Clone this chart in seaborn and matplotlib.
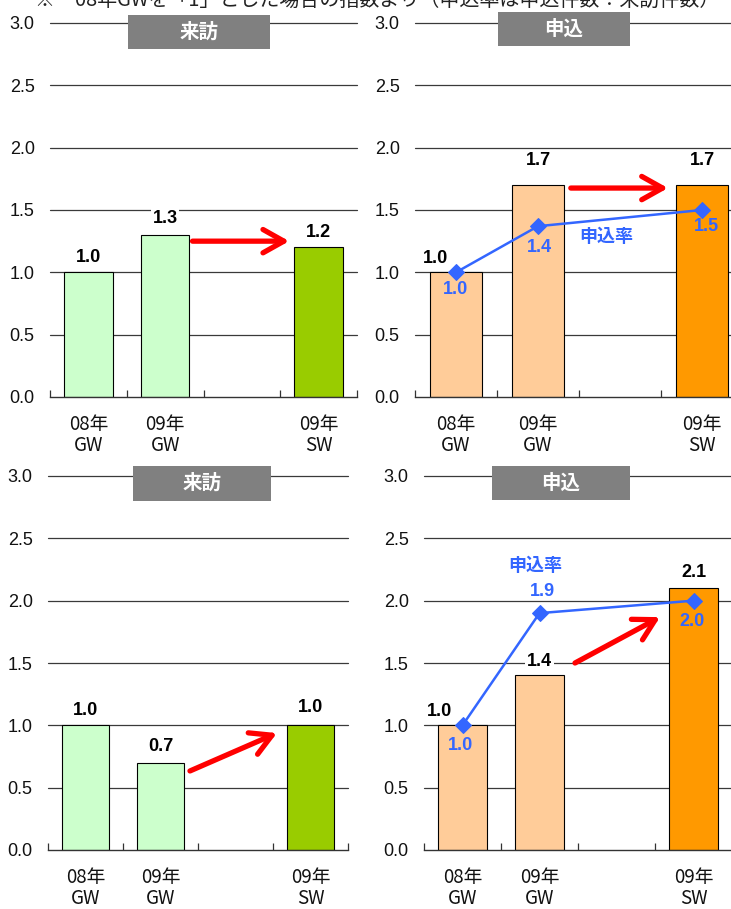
import matplotlib
matplotlib.use("Agg")
import matplotlib.pyplot as plt
from matplotlib.patches import Rectangle
import seaborn as sns
import pandas as pd

sns.set_theme(style="white")
plt.rcParams["font.family"] = ["Liberation Sans", "Noto Sans CJK JP", "DejaVu Sans"]

# ---- data -------------------------------------------------------------
periods = ["08年\nGW", "09年\nGW", "09年\nSW"]
slots = ["08年\nGW", "09年\nGW", " ", "09年\nSW"]   # blank slot before SW

visits_top = [1.0, 1.3, 1.2]
applies_top = [1.0, 1.7, 1.7]
rate_top = [1.0, 1.37, 1.5]

visits_bottom = [1.0, 0.7, 1.0]
applies_bottom = [1.0, 1.4, 2.1]
rate_bottom = [1.0, 1.9, 2.0]

y_ticks = [0.0, 0.5, 1.0, 1.5, 2.0, 2.5, 3.0]

note = "※　08年GWを「1」とした場合の指数より（申込率は申込件数÷来訪件数）"
visit_title = "来訪"
apply_title = "申込"
rate_name = "申込率"

visit_colors = ["#CCFFCC", "#CCFFCC", "#99CC00"]
apply_colors = ["#FFCC99", "#FFCC99", "#FF9900"]
BLUE = "#3366FF"

W, H = 731, 909
fig = plt.figure(figsize=(W / 100, H / 100), dpi=100)


def px_rect(x0, x1, y_top, y_bottom):
    return [x0 / W, 1 - y_bottom / H, (x1 - x0) / W, (y_bottom - y_top) / H]


def panel(rect, values, colors, title, box, arrow, lab_dx, lab_dy,
          rate=None, rate_off=None, rate_pos=None, tick_pad=10):
    ax = fig.add_axes(rect)
    df = pd.DataFrame({"period": periods, "value": values})
    sns.barplot(data=df, x="period", y="value", hue="period", order=slots,
                hue_order=periods, palette=colors, saturation=1, width=0.63,
                edgecolor="black", linewidth=0.8, legend=False, ax=ax,
                zorder=2)
    ax.set_xlim(-0.5, len(slots) - 0.5)
    ax.set_ylim(0, 3.0)
    ax.set_xlabel("")
    ax.set_ylabel("")

    # horizontal gridlines
    ax.set_yticks(y_ticks)
    ax.set_yticklabels([f"{t:.1f}" for t in y_ticks], fontsize=13,
                       family=["Liberation Sans Narrow", "Liberation Sans"],
                       color="#111111")
    for t in y_ticks[1:]:
        ax.axhline(t, color="#3a3a3a", lw=0.9, zorder=0.5, clip_on=False)
    ax.tick_params(axis="y", length=0, pad=tick_pad)

    # category axis with boundary ticks
    ax.set_xticks(range(len(slots)))
    ax.set_xticklabels(slots, fontsize=13.5, family=["Noto Sans CJK JP"],
                       linespacing=1.02, color="#111111")
    ax.set_xticks([i - 0.5 for i in range(len(slots) + 1)], minor=True)
    ax.tick_params(axis="x", which="major", length=0, pad=12)
    ax.tick_params(axis="x", which="minor", length=5, width=0.9,
                   direction="in", color="#333333", bottom=True)
    for s in ("left", "top", "right"):
        ax.spines[s].set_visible(False)
    ax.spines["bottom"].set_color("#333333")
    ax.spines["bottom"].set_linewidth(1.0)

    # value labels over bars
    for p, v, dx, dy in zip(periods, values, lab_dx, lab_dy):
        ax.annotate(f"{v:.1f}", (slots.index(p), v),
                    xytext=(dx * 0.72, dy * 0.72), textcoords="offset points",
                    ha="center", va="center", fontsize=13,
                    fontweight="bold", color="black", zorder=6,
                    bbox=dict(fc="white", ec="none", pad=1.0))

    # rate line
    if rate is not None:
        xs = [slots.index(p) for p in periods]
        sns.lineplot(x=xs, y=rate, color=BLUE, marker="D", markersize=8,
                     markeredgecolor=BLUE, lw=1.8, ax=ax, zorder=4)
        for x, r, (dx, dy) in zip(xs, rate, rate_off):
            ax.annotate(f"{r:.1f}", (x, r), xytext=(dx * 0.72, dy * 0.72),
                        textcoords="offset points", ha="center", va="center",
                        fontsize=13, fontweight="bold", color=BLUE, zorder=6)
        ax.text(rate_pos[0], rate_pos[1], rate_name, ha="center",
                va="center", fontsize=13, fontweight="bold", color=BLUE,
                family=["Noto Sans CJK JP"], zorder=6)

    # change arrow
    (x0, y0), (x1, y1) = arrow
    ax.annotate("", xy=(x1, y1), xytext=(x0, y0),
                arrowprops=dict(arrowstyle="->,head_length=0.75,head_width=0.42",
                                color="#FF0000", lw=3.8, mutation_scale=20,
                                shrinkA=0, shrinkB=0), zorder=5)

    # title tab
    bx0, bx1, by0, by1 = box
    ax.add_patch(Rectangle((bx0, by0), bx1 - bx0, by1 - by0,
                           transform=ax.transAxes, fc="#808080", ec="none",
                           clip_on=False, zorder=7))
    ax.text((bx0 + bx1) / 2, (by0 + by1) / 2, title, transform=ax.transAxes,
            ha="center", va="center", color="white", fontsize=14,
            fontweight="bold", family=["Noto Sans CJK JP"], zorder=8)
    return ax


panel(px_rect(50, 357, 23, 397), visits_top, visit_colors, visit_title,
      (0.254, 0.717, 0.930, 1.021),
      ((1.357, 1.25), (2.617, 1.25)),
      [0, 0, 0], [15, 16, 15], tick_pad=11)

panel(px_rect(415, 743, 23, 397), applies_top, apply_colors, apply_title,
      (0.253, 0.655, 0.939, 1.029),
      ((1.40, 1.676), (2.585, 1.676)),
      [-20, 0, 0], [14, 25, 25],
      rate=rate_top, rate_off=[(0, -17), (1, -21), (4, -17)],
      rate_pos=(1.83, 1.29), tick_pad=11)

panel(px_rect(48, 348, 476, 850), visits_bottom, visit_colors, visit_title,
      (0.283, 0.743, 0.933, 1.027),
      ((1.393, 0.634), (2.553, 0.938)),
      [0, 0, 0], [15, 16, 18], tick_pad=11)

panel(px_rect(424, 732, 476, 850), applies_bottom, apply_colors, apply_title,
      (0.221, 0.669, 0.936, 1.027),
      ((1.461, 1.50), (2.565, 1.868)),
      [-23, 0, 0], [14, 14, 16],
      rate=rate_bottom, rate_off=[(-2, -20), (3, 22), (-1, -21)],
      rate_pos=(0.94, 2.285), tick_pad=11)

fig.text(35 / W, 1 - 6 / H, note, fontsize=14.4, va="baseline", ha="left",
         color="#222222", family=["Noto Sans CJK JP"])

fig.savefig("out.png", dpi=100)
